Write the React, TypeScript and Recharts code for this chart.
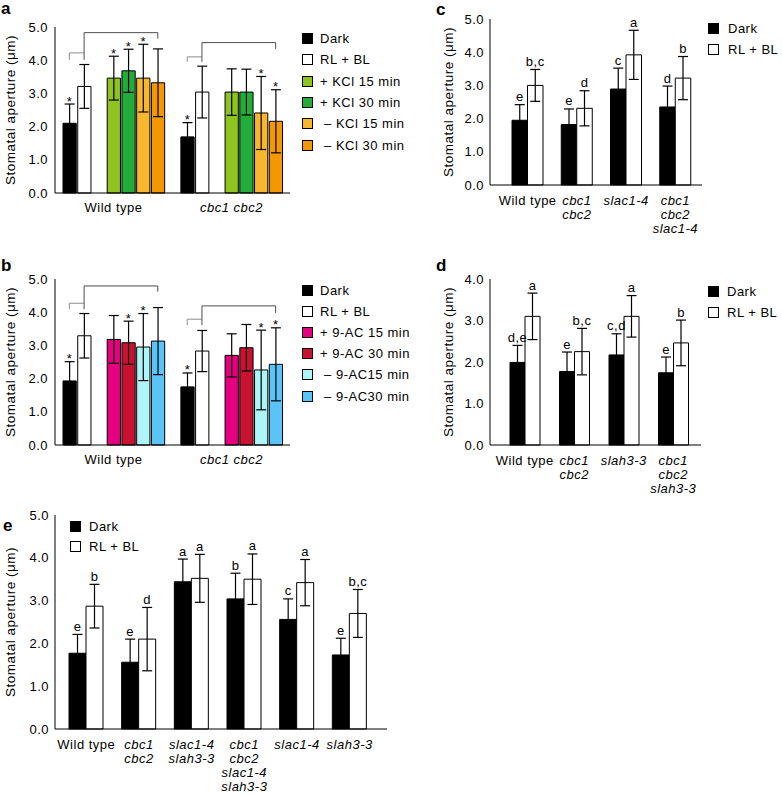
import React from 'react';
import { BarChart, Bar, XAxis, YAxis, ErrorBar, Cell, LabelList, ReferenceLine } from 'recharts';

const FONT = '"Liberation Sans", Arial, Helvetica, sans-serif';
const TITLE = 'Stomatal aperture (μm)';
const fiveTicks = [0, 1, 2, 3, 4, 5];
const fourTicks = [0, 1, 2, 3, 4];

// a: KCl
const abGenotypes = ['Wild type', 'cbc1 cbc2'];
const kclNames = ['Dark', 'RL + BL', '+ KCl 15 min', '+ KCl 30 min', ' – KCl 15 min', ' – KCl 30 min'];
const kclColors = ['#000000', '#ffffff', '#8fc31f', '#22ac38', '#f8b62d', '#f39800'];
const kclWtMean = [2.1, 3.21, 3.46, 3.68, 3.46, 3.32];
const kclWtSd = [0.58, 0.66, 0.66, 0.65, 1.02, 1.02];
const kclWtStar = [true, false, true, true, true, false];
const kclCbcMean = [1.69, 3.04, 3.04, 3.04, 2.41, 2.16];
const kclCbcSd = [0.43, 0.78, 0.7, 0.69, 1.1, 0.95];
const kclCbcStar = [true, false, false, false, true, true];

// b: 9-AC
const acNames = ['Dark', 'RL + BL', '+ 9-AC 15 min', '+ 9-AC 30 min', ' – 9-AC15 min', ' – 9-AC30 min'];
const acColors = ['#000000', '#ffffff', '#e4007f', '#c8122f', '#adf5f8', '#5bc4f6'];
const acWtMean = [1.93, 3.29, 3.18, 3.08, 2.95, 3.13];
const acWtSd = [0.58, 0.67, 0.72, 0.65, 1.01, 1.01];
const acWtStar = [true, false, false, true, true, false];
const acCbcMean = [1.75, 2.83, 2.7, 2.93, 2.26, 2.43];
const acCbcSd = [0.42, 0.62, 0.65, 0.7, 1.2, 1.1];
const acCbcStar = [true, false, false, false, true, true];

// c
const cGenotypes = [['Wild type'], ['cbc1', 'cbc2'], ['slac1-4'], ['cbc1', 'cbc2', 'slac1-4']];
const cDarkMean = [1.95, 1.82, 2.89, 2.35];
const cDarkSd = [0.47, 0.47, 0.63, 0.63];
const cDarkLetter = ['e', 'e', 'c', 'd'];
const cRlMean = [3.0, 2.31, 3.92, 3.22];
const cRlSd = [0.48, 0.53, 0.74, 0.65];
const cRlLetter = ['b,c', 'd', 'a', 'b'];

// d
const dGenotypes = [['Wild type'], ['cbc1', 'cbc2'], ['slah3-3'], ['cbc1', 'cbc2', 'slah3-3']];
const dDarkMean = [1.99, 1.77, 2.17, 1.74];
const dDarkSd = [0.41, 0.47, 0.51, 0.38];
const dDarkLetter = ['d,e', 'e', 'c,d', 'e'];
const dRlMean = [3.1, 2.25, 3.1, 2.46];
const dRlSd = [0.56, 0.56, 0.5, 0.55];
const dRlLetter = ['a', 'b,c', 'a', 'b'];

// e
const eGenotypes = [
  ['Wild type'],
  ['cbc1', 'cbc2'],
  ['slac1-4', 'slah3-3'],
  ['cbc1', 'cbc2', 'slac1-4', 'slah3-3'],
  ['slac1-4'],
  ['slah3-3'],
];
const eDarkMean = [1.77, 1.56, 3.44, 3.04, 2.56, 1.73];
const eDarkSd = [0.44, 0.54, 0.53, 0.6, 0.48, 0.39];
const eDarkLetter = ['e', 'e', 'a', 'b', 'c', 'e'];
const eRlMean = [2.87, 2.1, 3.52, 3.5, 3.42, 2.7];
const eRlSd = [0.51, 0.74, 0.56, 0.59, 0.54, 0.56];
const eRlLetter = ['b', 'd', 'a', 'a', 'a', 'b,c'];

const pairNames = ['Dark', 'RL + BL'];
const pairColors = ['#000000', '#ffffff'];

type Slot = { id: string; mean?: number; sd?: number; star?: string; color?: string; label?: string; italic?: boolean };

function buildSlots(prefix: string, colors: string[], means: number[][], sds: number[][], stars: boolean[][]): Slot[] {
  const rows: Slot[] = [];
  abGenotypes.forEach((g, gi) => {
    if (gi > 0) rows.push({ id: `${prefix}gap${gi}` });
    colors.forEach((c, i) => {
      if (i === 2) rows.push({ id: `${prefix}sp${gi}` });
      rows.push({
        id: `${prefix}${gi}-${i}`,
        mean: means[gi][i],
        sd: sds[gi][i],
        star: stars[gi][i] ? '*' : '',
        color: c,
        label: i === 2 ? g : '',
        italic: gi > 0,
      });
    });
  });
  return rows;
}

function buildPairs(genotypes: string[][], dm: number[], ds: number[], dl: string[], rm: number[], rs: number[], rl: string[]) {
  return genotypes.map((g, i) => ({
    name: g.join('|'),
    dark: dm[i],
    darkSd: ds[i],
    darkLetter: dl[i],
    rl: rm[i],
    rlSd: rs[i],
    rlLetter: rl[i],
  }));
}

const kclRows = buildSlots('k', kclColors, [kclWtMean, kclCbcMean], [kclWtSd, kclCbcSd], [kclWtStar, kclCbcStar]);
const acRows = buildSlots('c', acColors, [acWtMean, acCbcMean], [acWtSd, acCbcSd], [acWtStar, acCbcStar]);
const cRows = buildPairs(cGenotypes, cDarkMean, cDarkSd, cDarkLetter, cRlMean, cRlSd, cRlLetter);
const dRows = buildPairs(dGenotypes, dDarkMean, dDarkSd, dDarkLetter, dRlMean, dRlSd, dRlLetter);
const eRows = buildPairs(eGenotypes, eDarkMean, eDarkSd, eDarkLetter, eRlMean, eRlSd, eRlLetter);

// bracket heights (µm) per genotype: [small, small leg, big, big leg]
const kclBrackets = [
  [4.22, 4.01, 4.83, 4.65],
  [4.1, 3.95, 4.53, 4.34],
];
const acBrackets = [
  [4.27, 4.09, 4.79, 4.62],
  [3.79, 3.61, 4.19, 3.98],
];

// text placed just above the top of a bar's error bar
function markText(x: number, y: number, width: number, height: number, mean: number, sd: number, lift: number, text: string) {
  const perUnit = Math.abs(height) / mean;
  const top = y - sd * perUnit;
  return (
    <text x={x + width / 2} y={top - lift} textAnchor="middle" fontSize={13} style={{ fill: '#000' }}>
      {text}
    </text>
  );
}

function starContent(props: any) {
  const { x, y, width, height, value } = props;
  if (!value || typeof value !== 'object' || !value.star) return null;
  return markText(Number(x), Number(y), Number(width), Number(height), value.mean, value.sd, -1.5, value.star);
}

function letterContent(rows: any[], meanKey: string, sdKey: string) {
  return (props: any) => {
    const { x, y, width, height, index, value } = props;
    const row = rows[index];
    if (!value || !row) return null;
    return markText(Number(x), Number(y), Number(width), Number(height), row[meanKey], row[sdKey], 3.5, value);
  };
}

function AxisTitle({ viewBox, cx }: any) {
  const cy = viewBox.y + viewBox.height / 2;
  return (
    <text x={cx} y={cy} transform={`rotate(-90 ${cx} ${cy})`} textAnchor="middle" dominantBaseline="central" fontSize={13.5} fill="#000">
      {TITLE}
    </text>
  );
}

function SlotTick({ x, y, payload, rows }: any) {
  const row = rows.find((r: Slot) => r.id === payload.value);
  if (!row || !row.label) return null;
  return (
    <text x={x} y={y + 17} textAnchor="middle" fontSize={13} fill="#000" fontStyle={row.italic ? 'italic' : 'normal'}>
      {row.label}
    </text>
  );
}

function GenotypeTick({ x, y, payload }: any) {
  const lines = String(payload.value).split('|');
  const italic = lines[0] !== 'Wild type';
  return (
    <text x={x} y={y} textAnchor="middle" fontSize={13} fill="#000" fontStyle={italic ? 'italic' : 'normal'}>
      {lines.map((l, i) => (
        <tspan key={i} x={x} dy={i === 0 ? 17.5 : 14}>
          {l}
        </tspan>
      ))}
    </text>
  );
}

function bracketLines(heights: number[][], prefix: string) {
  const out: React.ReactElement[] = [];
  heights.forEach(([s, sLeg, b, bLeg], gi) => {
    const d = `${prefix}${gi}-0`;
    const l = `${prefix}${gi}-1`;
    const t = `${prefix}${gi}-5`;
    const light = '#8c8c8c';
    const dark = '#4d4d4d';
    const segs: [string, number, string, number, string][] = [
      [d, s, l, s, light],
      [d, s, d, sLeg, light],
      [l, b, l, sLeg, dark],
      [l, b, t, b, dark],
      [t, b, t, bLeg, dark],
    ];
    segs.forEach(([x1, y1, x2, y2, c], i) =>
      out.push(
        <ReferenceLine
          key={`${prefix}${gi}b${i}`}
          segment={[{ x: x1, y: y1 }, { x: x2, y: y2 }]}
          stroke={c}
          strokeWidth={1}
          ifOverflow="visible"
        />
      )
    );
  });
  return out;
}

function TreatmentChart({ rows, brackets, prefix }: { rows: Slot[]; brackets: number[][]; prefix: string }) {
  return (
    <BarChart width={480} height={230} data={rows} margin={{ top: 27, right: 190, bottom: 7, left: 0 }} barSize={15} barGap={0}>
      <XAxis
        dataKey="id"
        interval={0}
        tickLine={false}
        tickSize={0}
        height={30}
        padding={{ left: 7, right: 7 }}
        axisLine={{ stroke: '#000' }}
        tick={(p: any) => <SlotTick {...p} rows={rows} />}
      />
      <XAxis xAxisId="frame" orientation="top" dataKey="id" height={0} tick={false} tickLine={false} axisLine={{ stroke: '#000' }} />
      <YAxis
        type="number"
        domain={[0, 5]}
        ticks={fiveTicks}
        interval={0}
        width={55}
        tickLine={false}
        tickSize={0}
        tickMargin={7}
        tickFormatter={(v: number) => v.toFixed(1)}
        tick={{ fill: '#000', fontSize: 13 }}
        axisLine={{ stroke: '#000' }}
        label={<AxisTitle cx={10} />}
      />
      <YAxis yAxisId="frame" orientation="right" type="number" domain={[0, 5]} width={0} tick={false} tickLine={false} axisLine={{ stroke: '#000' }} />
      {bracketLines(brackets, prefix)}
      <Bar dataKey="mean" isAnimationActive={false} stroke="#000" strokeWidth={1}>
        {rows.map((r) => (
          <Cell key={r.id} fill={r.color ?? 'none'} />
        ))}
        <ErrorBar dataKey="sd" width={5} stroke="#000" strokeWidth={1.2} isAnimationActive={false} />
        <LabelList valueAccessor={(entry: any) => entry.payload} content={starContent} />
      </Bar>
    </BarChart>
  );
}

function PairChart({ rows, width, height, margin, yWidth, ticks, padding, barSize, titleX }: any) {
  const yMax = ticks[ticks.length - 1];
  return (
    <BarChart width={width} height={height} data={rows} margin={margin} barSize={barSize} barGap={0}>
      <XAxis
        dataKey="name"
        interval={0}
        tickLine={false}
        tickSize={0}
        height={30}
        padding={padding}
        axisLine={{ stroke: '#000' }}
        tick={<GenotypeTick />}
      />
      <XAxis xAxisId="frame" orientation="top" dataKey="name" height={0} tick={false} tickLine={false} axisLine={{ stroke: '#000' }} />
      <YAxis
        type="number"
        domain={[0, yMax]}
        ticks={ticks}
        interval={0}
        width={yWidth}
        tickLine={false}
        tickSize={0}
        tickMargin={6}
        tickFormatter={(v: number) => v.toFixed(1)}
        tick={{ fill: '#000', fontSize: 13 }}
        axisLine={{ stroke: '#000' }}
        label={<AxisTitle cx={titleX} />}
      />
      <YAxis yAxisId="frame" orientation="right" type="number" domain={[0, yMax]} width={0} tick={false} tickLine={false} axisLine={{ stroke: '#000' }} />
      <Bar dataKey="dark" fill={pairColors[0]} stroke="#000" strokeWidth={1} isAnimationActive={false}>
        <ErrorBar dataKey="darkSd" width={5} stroke="#000" strokeWidth={1.2} isAnimationActive={false} />
        <LabelList dataKey="darkLetter" content={letterContent(rows, 'dark', 'darkSd')} />
      </Bar>
      <Bar dataKey="rl" fill={pairColors[1]} stroke="#000" strokeWidth={1} isAnimationActive={false}>
        <ErrorBar dataKey="rlSd" width={5} stroke="#000" strokeWidth={1.2} isAnimationActive={false} />
        <LabelList dataKey="rlLetter" content={letterContent(rows, 'rl', 'rlSd')} />
      </Bar>
    </BarChart>
  );
}

function SwatchLegend({ names, colors, left, top, step, gap }: { names: string[]; colors: string[]; left: number; top: number; step: number; gap: number }) {
  return (
    <>
      {names.map((n, i) => (
        <div
          key={n}
          style={{ position: 'absolute', left, top: top + i * step - 8, height: 16, display: 'flex', alignItems: 'center', fontSize: 13, whiteSpace: 'pre' }}
        >
          <span style={{ width: 9, height: 9, border: '1px solid #000', background: colors[i], marginRight: gap, display: 'inline-block' }} />
          <span>{n}</span>
        </div>
      ))}
    </>
  );
}

function PanelLetter({ text, left, top }: { text: string; left: number; top: number }) {
  return (
    <div style={{ position: 'absolute', left, top, fontSize: 17, fontWeight: 'bold', lineHeight: '17px', letterSpacing: 0 }}>{text}</div>
  );
}

export default function App() {
  return (
    <div
      style={{ position: 'absolute', left: 0, top: 0, width: 782, height: 793, background: '#fff', fontFamily: FONT, letterSpacing: '0.5px', color: '#000', overflow: 'hidden' }}
    >
      <div style={{ position: 'absolute', left: 0, top: 0 }}>
        <TreatmentChart rows={kclRows} brackets={kclBrackets} prefix="k" />
      </div>
      <div style={{ position: 'absolute', left: 0, top: 252 }}>
        <TreatmentChart rows={acRows} brackets={acBrackets} prefix="c" />
      </div>
      <div style={{ position: 'absolute', left: 430, top: 0 }}>
        <PairChart rows={cRows} width={352} height={250} margin={{ top: 19, right: 80, bottom: 35, left: 0 }} yWidth={60} ticks={fiveTicks} padding={{ left: 13, right: 2 }} barSize={15.5} titleX={18} />
      </div>
      <div style={{ position: 'absolute', left: 430, top: 260 }}>
        <PairChart rows={dRows} width={352} height={250} margin={{ top: 19, right: 81, bottom: 35, left: 0 }} yWidth={60} ticks={fourTicks} padding={{ left: 10, right: 3 }} barSize={15} titleX={18} />
      </div>
      <div style={{ position: 'absolute', left: 0, top: 500 }}>
        <PairChart rows={eRows} width={420} height={293} margin={{ top: 15, right: 33, bottom: 34, left: 0 }} yWidth={55} ticks={fiveTicks} padding={{ left: 5, right: 11 }} barSize={17} titleX={10} />
      </div>

      <SwatchLegend names={kclNames} colors={kclColors} left={302} top={38.5} step={21.3} gap={7} />
      <SwatchLegend names={acNames} colors={acColors} left={302} top={290} step={21.2} gap={7} />
      <SwatchLegend names={pairNames} colors={pairColors} left={708} top={28} step={21} gap={9} />
      <SwatchLegend names={pairNames} colors={pairColors} left={708} top={291.5} step={20.5} gap={8} />
      <SwatchLegend names={pairNames} colors={pairColors} left={70} top={526} step={20} gap={8} />

      <PanelLetter text="a" left={1} top={0} />
      <PanelLetter text="b" left={1} top={257} />
      <PanelLetter text="c" left={436} top={1} />
      <PanelLetter text="d" left={436} top={257} />
      <PanelLetter text="e" left={3} top={517} />
    </div>
  );
}
